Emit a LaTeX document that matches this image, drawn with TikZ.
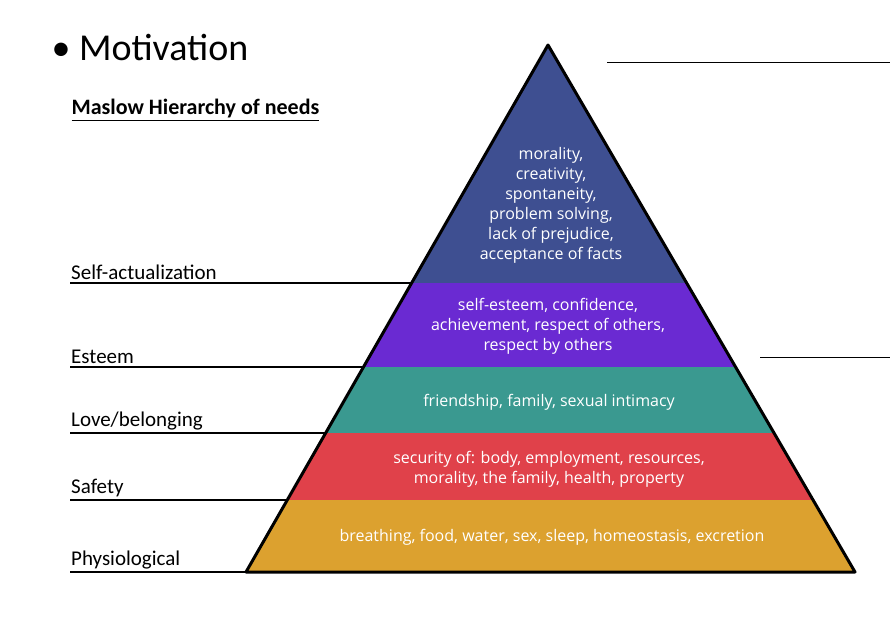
\documentclass[tikz,border=0pt]{standalone}
\usepackage{fontspec}
\setmainfont{Carlito}
\newfontfamily\bandfont{Open Sans}
\begin{document}
\begin{tikzpicture}[x=1pt,y=-1pt,
  band/.style={draw=none},
  btxt/.style={text=white,font=\bandfont\fontsize{16}{20}\selectfont,align=center},
  lab/.style={anchor=south west,font=\fontsize{21}{24}\selectfont,inner sep=1pt},
  lvl/.style={line width=1.2pt}]
\useasboundingbox (0,0) rectangle (890,624);
\definecolor{cnavy}{HTML}{3E4F91}
\definecolor{cpurp}{HTML}{6A2AD2}
\definecolor{cteal}{HTML}{3A9990}
\definecolor{cred}{HTML}{E0414A}
\definecolor{corng}{HTML}{DCA12F}
\coordinate (A) at (548,45);
\fill[cnavy] (A) -- (686.6,283) -- (411.6,283) -- cycle;
\fill[cpurp] (411.6,283) -- (686.6,283) -- (735.6,367) -- (363.5,367) -- cycle;
\fill[cteal] (363.5,367) -- (735.6,367) -- (774,433) -- (325.7,433) -- cycle;
\fill[cred] (325.7,433) -- (774,433) -- (813,500) -- (287.3,500) -- cycle;
\fill[corng] (287.3,500) -- (813,500) -- (855,572) -- (246,572) -- cycle;
\draw[line width=3pt,line join=round] (A) -- (855,572) -- (246,572) -- cycle;
\foreach \y/\x in {283/411.6,367/363.5,433/325.7,500/287.3,572/246}
  \draw[lvl] (70,\y) -- (\x,\y);
\draw[line width=1pt] (607,62) -- (890,62);
\draw[line width=1pt] (760,357) -- (890,357);
\node[lab] (l1) at (70,281) {Self-actualization};
\node[lab] (l2) at (70,365) {Esteem};
\node[lab] (l3) at (70,431) {Love/belonging};
\node[lab] (l4) at (70,498) {Safety};
\node[lab] (l5) at (70,570) {Physiological};
\node[anchor=west,font=\fontsize{38}{40}\selectfont] (t) at (48,48) {\textbullet\ Motivation};
\node[anchor=west,font=\bfseries\fontsize{22}{24}\selectfont] (s) at (68,110) {\underline{Maslow Hierarchy of needs}};
\node[btxt] (b1) at (551,205) {morality,\\creativity,\\spontaneity,\\problem solving,\\lack of prejudice,\\acceptance of facts};
\node[btxt] (b2) at (548,326) {self-esteem, confidence,\\achievement, respect of others,\\respect by others};
\node[btxt] (b3) at (549,402) {friendship, family, sexual intimacy};
\node[btxt] (b4) at (549,469) {security of: body, employment, resources,\\morality, the family, health, property};
\node[btxt] (b5) at (552,537) {breathing, food, water, sex, sleep, homeostasis, excretion};
\end{tikzpicture}
\end{document}
